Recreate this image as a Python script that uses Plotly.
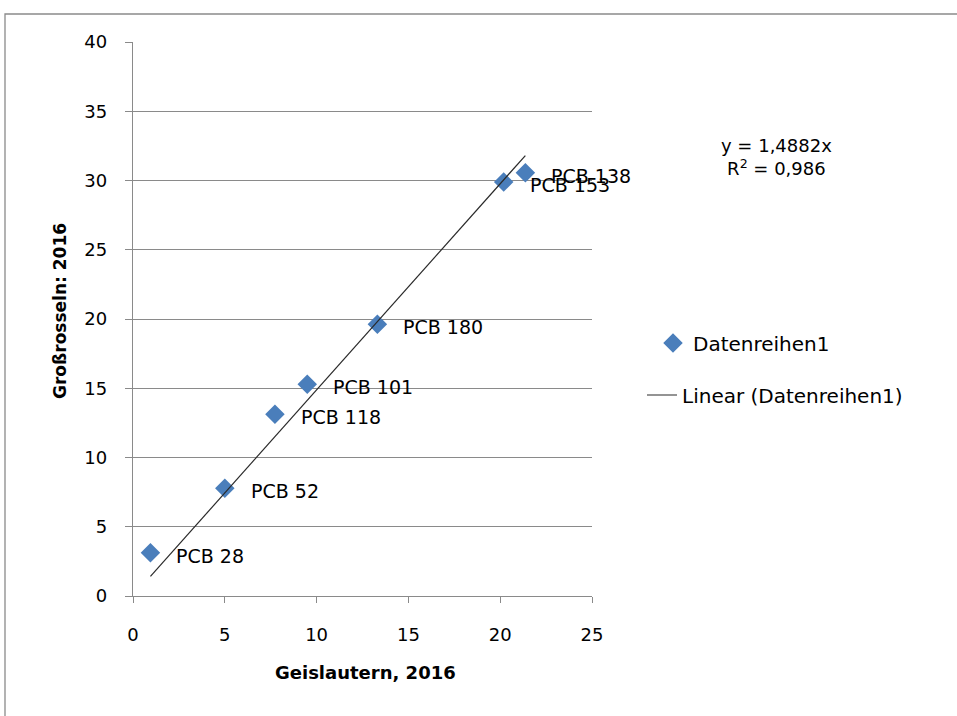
import plotly.graph_objects as go

# data
labels = ["PCB 28", "PCB 52", "PCB 118", "PCB 101", "PCB 180", "PCB 153", "PCB 138"]
geislautern = [0.95, 5.0, 7.73, 9.49, 13.31, 20.19, 21.37]
grossrosseln = [3.13, 7.78, 13.12, 15.28, 19.62, 29.89, 30.56]
slope = 1.4882
r2 = 0.986
x_ticks = [0, 5, 10, 15, 20, 25]
y_ticks = [0, 5, 10, 15, 20, 25, 30, 35, 40]

W, H = 957, 716
L, T = 133, 42
pw, ph = 592 - 133, 596 - 42
R = W - L - pw
B = H - T - ph

def px(xs):
    return (xs - L) / pw

def py(ys):
    return (T + ph - ys) / ph

trend_x = [min(geislautern), max(geislautern)]
trend_y = [slope * v for v in trend_x]

fig = go.Figure()
fig.add_trace(go.Scatter(
    x=geislautern, y=grossrosseln, mode="markers", name="Datenreihen1",
    marker=dict(symbol="diamond", size=15, color="#4A7EBB"),
    legend="legend", cliponaxis=False,
))
fig.add_trace(go.Scatter(
    x=trend_x, y=trend_y, mode="lines", name="Linear (Datenreihen1)",
    line=dict(color="#2a2a2a", width=1.2),
    legend="legend2",
))

ann = []
for lab, xv, yv in zip(labels, geislautern, grossrosseln):
    ann.append(dict(x=xv, y=yv, xref="x", yref="y", text=lab, showarrow=False,
                    xanchor="left", yanchor="middle", xshift=24, yshift=-3,
                    font=dict(family="DejaVu Sans", size=19, color="#000")))

ann.append(dict(x=px(776), y=py(157), xref="paper", yref="paper",
                text=f"y = {str(slope).replace('.', ',')}x<br>R<sup>2</sup> = {str(r2).replace('.', ',')}",
                showarrow=False, xanchor="center", yanchor="middle", align="center",
                font=dict(family="DejaVu Sans", size=18, color="#000")))
ann.append(dict(x=px(365), y=py(672), xref="paper", yref="paper",
                text="<b>Geislautern, 2016</b>", showarrow=False,
                xanchor="center", yanchor="middle",
                font=dict(family="DejaVu Sans", size=18, color="#000")))
ann.append(dict(x=px(60), y=py(311), xref="paper", yref="paper",
                text="<b>Großrosseln: 2016</b>", showarrow=False, textangle=-90,
                xanchor="center", yanchor="middle",
                font=dict(family="DejaVu Sans", size=17, color="#000")))

fig.update_layout(
    width=W, height=H,
    margin=dict(l=L, r=R, t=T, b=B, autoexpand=False),
    paper_bgcolor="white", plot_bgcolor="white",
    showlegend=True,
    legend=dict(x=px(653), y=py(343), xanchor="left", yanchor="middle",
                font=dict(family="DejaVu Sans", size=20, color="#000"),
                bgcolor="rgba(0,0,0,0)"),
    legend2=dict(x=px(642), y=py(395), xanchor="left", yanchor="middle",
                 font=dict(family="DejaVu Sans", size=20, color="#000"),
                 bgcolor="rgba(0,0,0,0)"),
    annotations=ann,
    shapes=[dict(type="rect", xref="paper", yref="paper",
                 x0=px(5), y0=py(740), x1=px(980), y1=py(14),
                 line=dict(color="#8a8a8a", width=1.3), layer="below")],
    xaxis=dict(range=[0, 25], tickvals=x_ticks, showgrid=False, zeroline=False,
               showline=True, linecolor="#8a8a8a", linewidth=1.3,
               ticks="outside", ticklen=6, tickcolor="#8a8a8a", tickwidth=1.3,
               ticklabelstandoff=16,
               tickfont=dict(family="DejaVu Sans", size=18, color="#000")),
    yaxis=dict(range=[0, 40], tickvals=y_ticks, showgrid=True, gridcolor="#8a8a8a",
               gridwidth=1.3, zeroline=False,
               showline=True, linecolor="#8a8a8a", linewidth=1.3,
               ticks="outside", ticklen=7, tickcolor="#8a8a8a", tickwidth=1.3,
               ticklabelstandoff=14,
               tickfont=dict(family="DejaVu Sans", size=18, color="#000")),
)

fig.write_html("out.html",
               config={"displayModeBar": False},
               post_script="document.body.style.margin='0';document.body.style.overflow='hidden';")
